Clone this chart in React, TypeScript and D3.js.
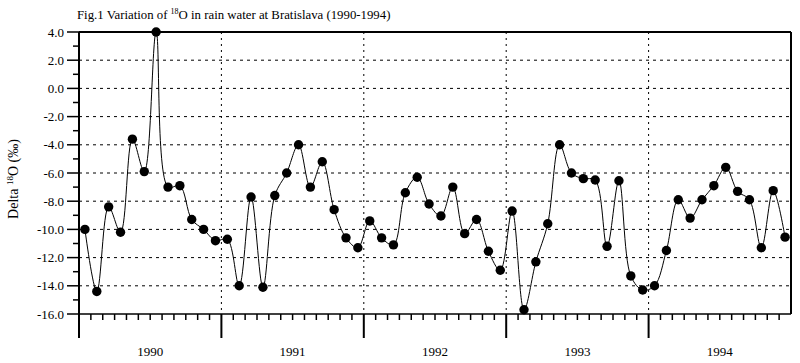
import * as d3 from "d3";
import React, { useEffect, useRef } from "react";

// monthly delta 18O values, Jan 1990 .. Dec 1994
const years = ["1990", "1991", "1992", "1993", "1994"];
const delta1990 = [-10.0, -14.4, -8.4, -10.2, -3.6, -5.9, 4.0, -7.0, -6.9, -9.3, -10.0, -10.8];
const delta1991 = [-10.7, -14.0, -7.7, -14.1, -7.6, -6.0, -4.0, -7.0, -5.2, -8.6, -10.6, -11.3];
const delta1992 = [-9.4, -10.6, -11.1, -7.4, -6.3, -8.2, -9.05, -7.0, -10.3, -9.3, -11.55, -12.9];
const delta1993 = [-8.7, -15.7, -12.3, -9.6, -4.0, -6.0, -6.4, -6.5, -11.2, -6.55, -13.3, -14.3];
const delta1994 = [-14.0, -11.5, -7.9, -9.2, -7.9, -6.9, -5.6, -7.3, -7.9, -11.3, -7.25, -10.55];
const yTicks = [4, 2, 0, -2, -4, -6, -8, -10, -12, -14, -16];

const values = [...delta1990, ...delta1991, ...delta1992, ...delta1993, ...delta1994];

const serif = "'Liberation Serif', 'Times New Roman', serif";

function drawChart(el: SVGSVGElement) {
  const svg = d3.select(el);
  svg.selectAll("*").remove();

  const left = 79, right = 791, top = 32, bottom = 314;
  const x = d3.scaleLinear().domain([0, values.length]).range([left, right]);
  const y = d3.scaleLinear().domain([-16, 4]).range([bottom, top]);

  // title
  const title = svg.append("text")
    .attr("x", 77).attr("y", 19)
    .attr("font-family", serif).attr("font-size", 12.8);
  title.append("tspan").text("Fig.1 Variation of ");
  title.append("tspan").attr("font-size", 8).attr("dy", -5).text("18");
  title.append("tspan").attr("dy", 5).text("O in rain water at Bratislava (1990-1994)");

  // y label
  const yl = svg.append("text")
    .attr("transform", `translate(18, ${(top + bottom) / 2 + 6}) rotate(-90)`)
    .attr("text-anchor", "middle")
    .attr("font-family", serif).attr("font-size", 14);
  yl.append("tspan").text("Delta  ");
  yl.append("tspan").attr("font-size", 9).attr("dy", -5).text("18");
  yl.append("tspan").attr("dy", 5).text("O (‰)");

  // horizontal grid
  svg.append("g").selectAll("line")
    .data(yTicks.filter(d => d > -16 && d < 4))
    .join("line")
    .attr("x1", left).attr("x2", right)
    .attr("y1", d => y(d)).attr("y2", d => y(d))
    .attr("stroke", "#000").attr("stroke-width", 1).attr("stroke-dasharray", "3,4");

  // vertical year grid
  svg.append("g").selectAll("line")
    .data([12, 24, 36, 48])
    .join("line")
    .attr("x1", d => x(d)).attr("x2", d => x(d))
    .attr("y1", top).attr("y2", bottom)
    .attr("stroke", "#000").attr("stroke-width", 1).attr("stroke-dasharray", "2,4");

  // frame
  svg.append("line").attr("x1", left).attr("x2", right).attr("y1", top).attr("y2", top)
    .attr("stroke", "#000").attr("stroke-width", 2);
  svg.append("line").attr("x1", right).attr("x2", right).attr("y1", top).attr("y2", bottom)
    .attr("stroke", "#000").attr("stroke-width", 2);
  svg.append("line").attr("x1", left).attr("x2", right).attr("y1", bottom).attr("y2", bottom)
    .attr("stroke", "#000").attr("stroke-width", 1.5);
  svg.append("line").attr("x1", left).attr("x2", left).attr("y1", top).attr("y2", 338)
    .attr("stroke", "#000").attr("stroke-width", 2);

  // y ticks
  svg.append("g").selectAll("line")
    .data(yTicks)
    .join("line")
    .attr("x1", 67).attr("x2", left)
    .attr("y1", d => y(d)).attr("y2", d => y(d))
    .attr("stroke", "#000").attr("stroke-width", 1.5);
  svg.append("g").selectAll("line")
    .data(d3.range(-15, 4, 2))
    .join("line")
    .attr("x1", 73).attr("x2", left)
    .attr("y1", d => y(d)).attr("y2", d => y(d))
    .attr("stroke", "#000").attr("stroke-width", 1.5);
  svg.append("g").selectAll("text")
    .data(yTicks)
    .join("text")
    .attr("x", 64).attr("y", d => y(d) + 4.5)
    .attr("text-anchor", "end")
    .attr("font-family", serif).attr("font-size", 13)
    .text(d => d3.format(".1f")(d).replace("−", "-"));

  // x ticks
  svg.append("g").selectAll("line")
    .data(d3.range(1, values.length + 1).filter(m => m % 12 !== 0))
    .join("line")
    .attr("x1", d => x(d)).attr("x2", d => x(d))
    .attr("y1", bottom).attr("y2", bottom + 6)
    .attr("stroke", "#000").attr("stroke-width", 1.5);
  svg.append("g").selectAll("line")
    .data([12, 24, 36, 48])
    .join("line")
    .attr("x1", d => x(d)).attr("x2", d => x(d))
    .attr("y1", bottom).attr("y2", 338)
    .attr("stroke", "#000").attr("stroke-width", 2);
  svg.append("g").selectAll("text")
    .data(years)
    .join("text")
    .attr("x", (d, i) => x(i * 12 + 6)).attr("y", 356)
    .attr("text-anchor", "middle")
    .attr("font-family", serif).attr("font-size", 13)
    .text(d => d);

  // line + points
  const line = d3.line<number>()
    .x((d, i) => x(i + 0.5))
    .y(d => y(d))
    .curve(d3.curveCatmullRom.alpha(0.5));
  svg.append("path").datum(values)
    .attr("d", line)
    .attr("fill", "none").attr("stroke", "#000").attr("stroke-width", 1);
  svg.append("g").selectAll("circle")
    .data(values)
    .join("circle")
    .attr("cx", (d, i) => x(i + 0.5)).attr("cy", d => y(d))
    .attr("r", 4.7).attr("fill", "#000");
}

export default function App() {
  const ref = useRef<SVGSVGElement>(null);
  useEffect(() => {
    if (ref.current) drawChart(ref.current);
  }, []);
  return (
    <svg ref={ref} width={800} height={363}
      style={{ position: "absolute", left: 0, top: 0, background: "#fff" }} />
  );
}
